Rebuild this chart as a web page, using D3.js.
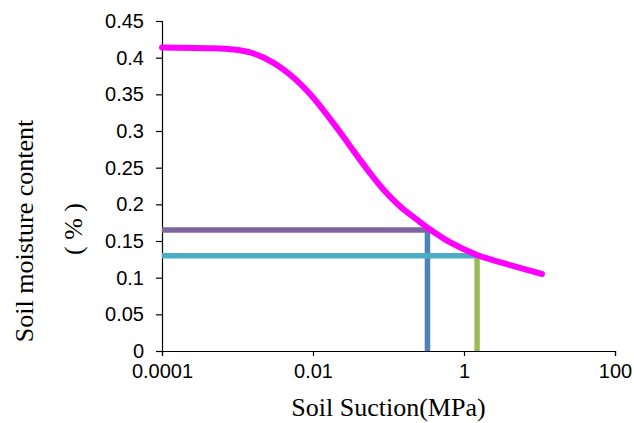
<!DOCTYPE html>
<html>
<head>
<meta charset="utf-8">
<script src="https://cdn.jsdelivr.net/npm/d3@7"></script>
<style>
  body { margin: 0; background: #fff; }
  .axis text { font-family: 'Liberation Sans', Arial, sans-serif; font-size: 20px; fill: #000; }
  .axis path, .axis line { stroke: #000; stroke-width: 1.2; }
  .title { font-family: 'Liberation Serif', 'Times New Roman', serif; font-size: 26px; fill: #000; }
</style>
</head>
<body>
<div id="chart"></div>
<script>
// Soil water retention curve, log suction axis
const suction = [0.0001, 0.0004, 0.0009, 0.0016, 0.003, 0.0055, 0.0092,
                 0.0188, 0.0312, 0.0519, 0.0861, 0.143, 0.238, 0.34, 0.658, 1.49, 4.1, 10.8];
const moisture = [0.414, 0.413, 0.411, 0.406, 0.393, 0.373, 0.350,
                  0.310, 0.279, 0.248, 0.220, 0.197, 0.179, 0.167, 0.148, 0.131, 0.117, 0.105];

// reference lines: horizontal at a moisture value, vertical down from a suction value
const guideSuction = [0.328, 1.49];
const guideMoisture = [0.165, 0.13];
const hColors = ['#8064A2', '#4BACC6'];
const vColors = ['#4F81BD', '#9BBB59'];

const xTicks = [0.0001, 0.01, 1, 100];
const xLabels = ['0.0001', '0.01', '1', '100'];
const yTicks = d3.range(0, 0.451, 0.05);

const margin = { top: 21, right: 19, bottom: 72, left: 162 };
const W = 634, H = 423;
const width = W - margin.left - margin.right;
const height = H - margin.top - margin.bottom;

const svg = d3.select('#chart').append('svg')
    .attr('width', W)
    .attr('height', H);

const g = svg.append('g')
    .attr('transform', `translate(${margin.left},${margin.top})`);

const x = d3.scaleLog().domain([0.0001, 100]).range([0, width]);
const y = d3.scaleLinear().domain([0, 0.45]).range([height, 0]);

// axes
g.append('g')
    .attr('class', 'axis')
    .attr('transform', `translate(0,${height})`)
    .call(d3.axisBottom(x).tickValues(xTicks).tickSizeOuter(0).tickSize(5).tickPadding(8)
        .tickFormat((d, i) => xLabels[i]));

g.append('g')
    .attr('class', 'axis')
    .call(d3.axisLeft(y).tickValues(yTicks).tickSizeOuter(0).tickSize(6).tickPadding(12)
        .tickFormat(d => String(+d.toFixed(2))));

// guide lines
guideSuction.forEach((s, i) => {
    g.append('line')
        .attr('x1', x(s)).attr('x2', x(s))
        .attr('y1', y(0)).attr('y2', y(guideMoisture[i]))
        .attr('stroke', vColors[i])
        .attr('stroke-width', 5.5);
    g.append('line')
        .attr('x1', x(0.0001)).attr('x2', x(s))
        .attr('y1', y(guideMoisture[i])).attr('y2', y(guideMoisture[i]))
        .attr('stroke', hColors[i])
        .attr('stroke-width', 5.5);
});

// retention curve
const line = d3.line()
    .x((d, i) => x(suction[i]))
    .y(d => y(d))
    .curve(d3.curveCatmullRom.alpha(0.5));

g.append('path')
    .datum(moisture)
    .attr('d', line)
    .attr('fill', 'none')
    .attr('stroke', '#FF00FF')
    .attr('stroke-width', 6)
    .attr('stroke-linecap', 'round');

// axis titles
svg.append('text')
    .attr('class', 'title')
    .attr('text-anchor', 'middle')
    .attr('x', margin.left + width / 2)
    .attr('y', 416)
    .text('Soil Suction(MPa)');

svg.append('text')
    .attr('class', 'title')
    .attr('text-anchor', 'middle')
    .attr('transform', 'translate(33,231) rotate(-90)')
    .text('Soil moisture content');

svg.append('text')
    .attr('class', 'title')
    .attr('text-anchor', 'middle')
    .attr('transform', 'translate(82,229) rotate(-90)')
    .text('( % )');
</script>
</body>
</html>
